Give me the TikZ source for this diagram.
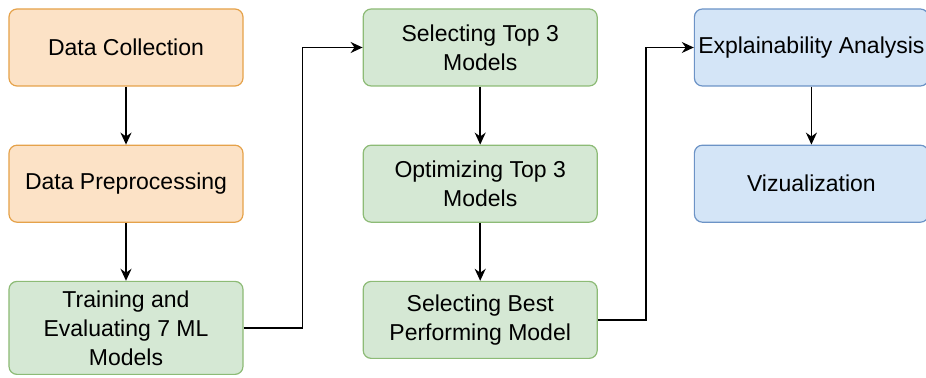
\documentclass[tikz,border=0pt]{standalone}
\usepackage{fontspec}
\setmainfont{Liberation Sans}
\usetikzlibrary{matrix, arrows.meta}
\definecolor{orangefill}{HTML}{FCE2C6}
\definecolor{orangeline}{HTML}{E5A24A}
\definecolor{greenfill}{HTML}{D5E8D4}
\definecolor{greenline}{HTML}{8DBB76}
\definecolor{bluefill}{HTML}{D4E5F7}
\definecolor{blueline}{HTML}{6C93C6}

\begin{document}
\begin{tikzpicture}[x=1pt, y=1pt,
  stage/.style = {draw, rounded corners=4pt, line width=0.6pt, minimum width=117pt, minimum height=38.5pt,
    inner sep=1pt, align=center, anchor=north, font=\fontsize{11.5}{14.5}\selectfont},
  datastage/.style = {stage, fill=orangefill, draw=orangeline},
  modelstage/.style = {stage, fill=greenfill, draw=greenline},
  explstage/.style = {stage, fill=bluefill, draw=blueline},
  flow/.style = {-{Stealth[length=6pt, width=5.5pt]}, line width=0.75pt}]
\useasboundingbox (0,0) rectangle (463,-189);
\matrix (m) [column sep=48pt, row sep=29pt, anchor=north west, inner sep=0pt] at (4,-4) {
\node[datastage](coll){Data Collection}; &[11.5pt] \node[modelstage](top){Selecting Top 3\\Models}; & \node[explstage](expl){Explainability Analysis}; \\
\node[datastage](prep){Data Preprocessing}; &[11.5pt] \node[modelstage](opt){Optimizing Top 3\\Models}; & \node[explstage](viz){Vizualization}; \\
\node[modelstage, minimum height=46.5pt](train){Training and\\Evaluating 7 ML\\Models}; &[11.5pt] \node[modelstage](best){Selecting Best\\Performing Model}; & \\
};
\draw[flow] (coll) -- (prep);
\draw[flow] (prep) -- (train);
\draw[flow] (train.east) -- ++(29.5,0) |- (top.west);
\draw[flow] (top) -- (opt);
\draw[flow] (opt) -- (best);
\draw[flow] (best.east) -- ++(24,0) |- (expl.west);
\draw[flow] (expl) -- (viz);
\end{tikzpicture}
\end{document}
